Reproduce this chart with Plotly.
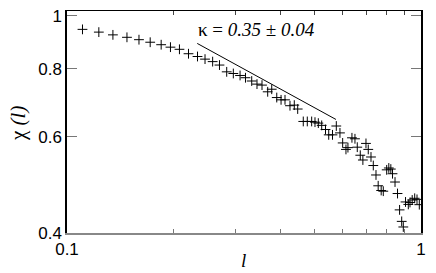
import plotly.graph_objects as go
import math

# Data (log-log)
l_vals = [0.1106, 0.1230, 0.1348, 0.1477, 0.1597, 0.1718, 0.1845, 0.1960, 0.2078, 0.2204,
          0.2337, 0.2454, 0.2579, 0.2696, 0.2826, 0.2950, 0.3082, 0.3193, 0.3325, 0.3441,
          0.3555, 0.3689, 0.3787, 0.3913, 0.4024, 0.4129, 0.4265, 0.4386, 0.4484, 0.4650,
          0.4773, 0.4911, 0.5018, 0.5128, 0.5242, 0.5373, 0.5487, 0.5623, 0.5764, 0.5903,
          0.6008, 0.6138, 0.6218, 0.6382, 0.6508, 0.6607, 0.6737, 0.6852, 0.6991, 0.7096,
          0.7223, 0.7332, 0.7462, 0.7569, 0.7718, 0.7825, 0.8000, 0.8111, 0.8218, 0.8309,
          0.8445, 0.8584, 0.8700, 0.8820, 0.8913, 0.9042, 0.9207, 0.9309, 0.9443, 0.9598,
          0.9743, 0.9890]
chi_vals = [0.9447, 0.9338, 0.9231, 0.9136, 0.9045, 0.8948, 0.8855, 0.8764, 0.8685, 0.8524,
            0.8425, 0.8332, 0.8245, 0.8126, 0.7897, 0.7842, 0.7777, 0.7703, 0.7597, 0.7498,
            0.7467, 0.7259, 0.7338, 0.7085, 0.7017, 0.7017, 0.6845, 0.6862, 0.6750, 0.6405,
            0.6405, 0.6405, 0.6386, 0.6360, 0.6300, 0.6191, 0.6053, 0.6053, 0.6283, 0.6103,
            0.5850, 0.5692, 0.5735, 0.5978, 0.5953, 0.5746, 0.5554, 0.5443, 0.5838, 0.5692,
            0.5513, 0.5318, 0.5110, 0.4882, 0.4786, 0.4772, 0.5222, 0.5263, 0.5239, 0.5137,
            0.4960, 0.4725, 0.4410, 0.4201, 0.4103, 0.4560, 0.4513, 0.4550, 0.4598, 0.4631,
            0.4610, 0.4508]

fit_l = [0.2333, 0.5752]
fit_chi = [0.8903, 0.6459]

x_tickvals = [0.1, 0.2, 0.3, 0.4, 0.5, 0.6, 0.7, 0.8, 0.9, 1.0]
x_ticktext = ["0.1", "", "", "", "", "", "", "", "", "1"]
y_tickvals = [0.4, 0.6, 0.8, 1.0]
y_ticktext = ["0.4", "0.6", "0.8", "1"]

fig = go.Figure()
fig.add_trace(go.Scatter(x=l_vals, y=chi_vals, mode="markers",
                         marker=dict(symbol="cross-thin", size=7,
                                     line=dict(color="black", width=1)),
                         showlegend=False))
fig.add_trace(go.Scatter(x=fit_l, y=fit_chi, mode="lines",
                         line=dict(color="black", width=1), showlegend=False))
# invisible trace for top axis
fig.add_trace(go.Scatter(x=[0.5], y=[0.5], xaxis="x2", mode="markers",
                         marker=dict(opacity=0), showlegend=False, hoverinfo="skip"))

xr = [-1, 0]
yr = [math.log10(0.4), math.log10(0.4) + 226 / 555.4]

fig.update_layout(
    width=436, height=273,
    margin=dict(l=67, r=15, t=7, b=40),
    paper_bgcolor="white", plot_bgcolor="white",
    font=dict(family="Liberation Sans, Arial", size=17, color="black"),
    xaxis=dict(type="log", range=xr, tickvals=x_tickvals, ticktext=x_ticktext,
               ticks="inside", ticklen=4, tickcolor="#777", tickwidth=1,
               showline=True, linecolor="#888", linewidth=2, mirror=False,
               showgrid=False, zeroline=False,
               tickfont=dict(family="Liberation Sans, Arial", size=17)),
    xaxis2=dict(type="log", range=xr, overlaying="x", side="top",
                tickvals=x_tickvals, showticklabels=False,
                ticks="inside", ticklen=4, tickcolor="#444", tickwidth=1,
                showline=True, linecolor="black", linewidth=1,
                showgrid=False, zeroline=False),
    yaxis=dict(type="log", range=yr, tickvals=y_tickvals, ticktext=y_ticktext,
               ticks="inside", ticklen=10, tickcolor="#777", tickwidth=1,
               showline=True, linecolor="black", linewidth=1.5, mirror="ticks",
               showgrid=False, zeroline=False,
               tickfont=dict(family="Liberation Sans, Arial", size=17)),
    annotations=[
        dict(text="κ = <i>0.35 ± 0.04</i>", xref="paper", yref="paper",
             x=(256.5 - 67) / 354, y=(233 - 25.7) / 226, showarrow=False,
             xanchor="center", yanchor="middle",
             font=dict(family="Liberation Serif, Times New Roman", size=19, color="black")),
        dict(text="<i>l</i>", xref="paper", yref="paper",
             x=(243 - 67) / 354, y=-(261 - 233) / 226, showarrow=False,
             xanchor="center", yanchor="middle",
             font=dict(family="Liberation Serif, Times New Roman", size=19, color="black")),
        dict(text="χ <i>(l)</i>", xref="paper", yref="paper",
             x=(18 - 67) / 354, y=(233 - 122) / 226, showarrow=False,
             textangle=-90, xanchor="center", yanchor="middle",
             font=dict(family="Liberation Serif, Times New Roman", size=21, color="black")),
    ],
)

fig.write_html("out.html", post_script="document.body.style.margin='0';",
               config={"displayModeBar": False})
